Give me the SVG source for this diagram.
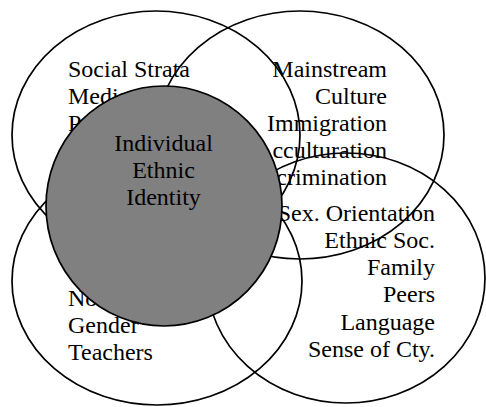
<svg xmlns="http://www.w3.org/2000/svg" width="486" height="407" viewBox="0 0 486 407">
<rect width="486" height="407" fill="#fff"/>
<g id="top-left">
<ellipse cx="156" cy="135" rx="144" ry="124" fill="none" stroke="#000" stroke-width="1.7"/>
<text x="68" y="76.5" font-family="Liberation Serif" font-size="24">Social Strata</text>
<text x="68" y="103.5" font-family="Liberation Serif" font-size="24">Media</text>
<text x="68" y="130.5" font-family="Liberation Serif" font-size="24">P</text>
</g>
<g id="top-right">
<ellipse cx="300" cy="135" rx="144" ry="124" fill="none" stroke="#000" stroke-width="1.7"/>
<text x="387" y="76.5" font-family="Liberation Serif" font-size="24" text-anchor="end">Mainstream</text>
<text x="387" y="103.5" font-family="Liberation Serif" font-size="24" text-anchor="end">Culture</text>
<text x="387" y="130.5" font-family="Liberation Serif" font-size="24" text-anchor="end">Immigration</text>
<text x="387" y="157.5" font-family="Liberation Serif" font-size="24" text-anchor="end">Acculturation</text>
<text x="387" y="184.5" font-family="Liberation Serif" font-size="24" text-anchor="end">Discrimination</text>
</g>
<g id="bottom-left">
<ellipse cx="157" cy="281" rx="145" ry="124" fill="none" stroke="#000" stroke-width="1.7"/>
<text x="68" y="305.5" font-family="Liberation Serif" font-size="24">No</text>
<text x="68" y="333" font-family="Liberation Serif" font-size="24">Gender</text>
<text x="68" y="360" font-family="Liberation Serif" font-size="24">Teachers</text>
</g>
<g id="bottom-right">
<ellipse cx="346" cy="278" rx="139" ry="125" fill="none" stroke="#000" stroke-width="1.7"/>
<text x="435" y="221" font-family="Liberation Serif" font-size="24" text-anchor="end">Sex. Orientation</text>
<text x="435" y="248" font-family="Liberation Serif" font-size="24" text-anchor="end">Ethnic Soc.</text>
<text x="435" y="275" font-family="Liberation Serif" font-size="24" text-anchor="end">Family</text>
<text x="435" y="302" font-family="Liberation Serif" font-size="24" text-anchor="end">Peers</text>
<text x="435" y="329.5" font-family="Liberation Serif" font-size="24" text-anchor="end">Language</text>
<text x="435" y="357" font-family="Liberation Serif" font-size="24" text-anchor="end">Sense of Cty.</text>
</g>
<g id="individual">
<ellipse cx="164" cy="206" rx="118" ry="120" fill="#808080" stroke="#000" stroke-width="1.7"/>
<text x="163.5" y="150.5" font-family="Liberation Serif" font-size="24" text-anchor="middle">Individual</text>
<text x="163.5" y="177.5" font-family="Liberation Serif" font-size="24" text-anchor="middle">Ethnic</text>
<text x="163.5" y="204.5" font-family="Liberation Serif" font-size="24" text-anchor="middle">Identity</text>
</g>
</svg>
